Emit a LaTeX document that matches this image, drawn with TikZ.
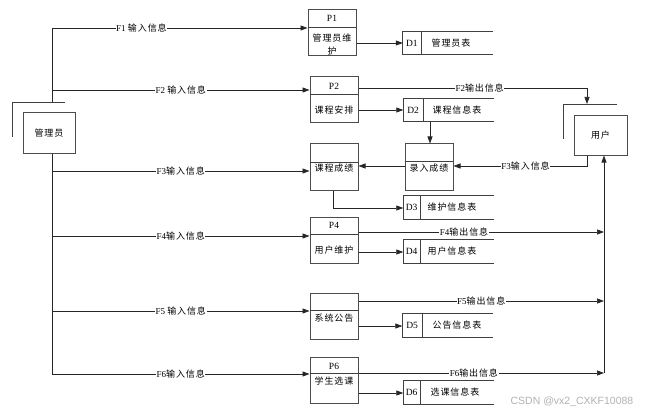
\documentclass[tikz,border=0pt]{standalone}
\usepackage{fontspec}
\setmainfont{Liberation Serif}
\newfontfamily\cjk[LetterSpace=10]{Noto Sans CJK SC}
\newfontfamily\wmfont{Liberation Sans}
\usetikzlibrary{arrows.meta,calc}
\newcommand\zh[1]{{\cjk #1}}
\begin{document}
\begin{tikzpicture}[x=1pt,y=-1pt,
  font=\fontsize{9}{12}\selectfont,
  ln/.style={draw=black!85, line width=0.7pt},
  flow/.style={ln, -{Triangle[length=7pt,width=5pt]}},
  proc/.style={draw=black!70, line width=1pt, rectangle, inner sep=0pt,
    minimum width=48pt, minimum height=46pt},
  ent/.style={draw=black!70, line width=1pt, rectangle, inner sep=0pt,
    minimum width=52pt, minimum height=40pt},
  store/.style={rectangle, inner sep=0pt, minimum width=90pt, minimum height=23pt},
  sline/.style={draw=black!75, line width=0.9pt},
  lab/.style={fill=white, inner sep=0.6pt},
  txt/.style={inner sep=0pt, align=center}]
\useasboundingbox[fill=white] (0,0) rectangle (653,417);

% external entities
\node[ent] (adm) at (49,133) {\zh{管理员}};
\draw[sline] (12,137) -- (12,102) -- (65,102);
\node[ent, minimum width=53pt, minimum height=39pt] (usr) at (600.5,135.5) {\zh{用户}};
\draw[sline] (563,139) -- (563,104) -- (617,104);
\coordinate (uo) at (563,104);

% processes
\node[proc] (p1) at (332,33) {};
\draw[sline] (308,27) -- (356,27);
\node[txt] (p1t) at (332,18) {\fontsize{9.5}{12}\selectfont P1};
\node[txt] (p1n) at (332,45) {\zh{管理员维}\\[1pt]\zh{护}};

\node[proc] (p2) at (334,100) {};
\draw[sline] (310,94) -- (358,94);
\node[txt] (p2t) at (334,86) {\fontsize{9.5}{12}\selectfont P2};
\node[txt] (p2n) at (334,110) {\zh{课程安排}};

\node[proc] (kc) at (334,167) {};
\draw[sline] (310,162) -- (358,162);
\node[txt] (kcn) at (334,168) {\zh{课程成绩}};

\node[proc] (lr) at (429,167) {};
\draw[sline] (405,161) -- (453,161);
\node[txt] (lrn) at (429,168) {\zh{录入成绩}};

\node[proc] (p4) at (334,240) {};
\draw[sline] (310,234) -- (358,234);
\node[txt] (p4t) at (334,225) {\fontsize{9.5}{12}\selectfont P4};
\node[txt] (p4n) at (334,250) {\zh{用户维护}};

\node[proc] (xt) at (334,316) {};
\draw[sline] (310,310) -- (358,310);
\node[txt] (xtn) at (334,318) {\zh{系统公告}};

\node[proc] (p6) at (334,380) {};
\node[txt] (p6t) at (334,366) {\fontsize{9.5}{12}\selectfont P6};
\node[txt] (p6n) at (334,381) {\zh{学生选课}};

% data stores
\foreach \n/\cx/\cy/\dv/\id/\tx/\nm in {
  d1/448/43/421/D1/451/管理员表,
  d2/448.5/110/423/D2/457/课程信息表,
  d3/448.5/207.5/420/D3/452/维护信息表,
  d4/448.5/251.5/420/D4/452/用户信息表,
  d5/447.5/325.5/422/D5/457/公告信息表,
  d6/448.5/392.5/420/D6/455/选课信息表}{
  \node[store] (\n) at (\cx,\cy) {};
  \draw[sline] (\n.north east) -- (\n.north west) -- (\n.south west) -- (\n.south east);
  \draw[sline] (\dv,0 |- \n.north) -- (\dv,0 |- \n.south);
  \node[txt] at ($(\n.west)!0.5!(\dv,\cy)$) {\fontsize{9.5}{12}\selectfont\id};
  \node[txt] at (\tx,\cy) {\zh{\nm}};
}

% trunk from administrator
\coordinate (i1) at (52,28);
\coordinate (i2) at (52,90);
\coordinate (i3) at (52,171);
\coordinate (i4) at (52,236);
\coordinate (i5) at (52,311);
\coordinate (i6) at (52,374);
\coordinate (tj) at (52,102);
\draw[ln] (i1) -- (tj);
\draw[ln] (adm.south -| i1) -- (i6);

\draw[flow] (i1) -- node[lab,pos=0.35]{F1 \zh{输入信息}} (i1 -| p1.west);
\draw[flow] (i2) -- node[lab,pos=0.5]{F2 \zh{输入信息}} (i2 -| p2.west);
\draw[flow] (i3) -- node[lab,pos=0.5]{F3\zh{输入信息}} (i3 -| kc.west);
\draw[flow] (i4) -- node[lab,pos=0.5]{F4\zh{输入信息}} (i4 -| p4.west);
\draw[flow] (i5) -- node[lab,pos=0.5]{F5 \zh{输入信息}} (i5 -| xt.west);
\draw[flow] (i6) -- node[lab,pos=0.5]{F6\zh{输入信息}} (i6 -| p6.west);

% process to store
\draw[flow] (p1.east |- 0,43) -- (d1.west |- 0,43);
\draw[flow] (p2.east |- 0,110) -- (d2.west |- 0,110);
\draw[flow] (d2.south -| 430,0) -- (lr.north -| 430,0);
\draw[flow] (lr.west |- 0,166) -- (kc.east |- 0,166);
\draw[flow] (kc.south -| 333,0) -- (333,208) -- (d3.west |- 0,208);
\draw[flow] (p4.east |- 0,252) -- (d4.west |- 0,252);
\draw[flow] (xt.east |- 0,326) -- (d5.west |- 0,326);
\draw[flow] (p6.east |- 0,393) -- (d6.west |- 0,393);
\draw[sline] (310,373) -- (358,373);

% outputs to user
\coordinate (o2) at (587,88);
\draw[flow] (p2.east |- o2) -- node[lab,pos=0.53]{F2\zh{输出信息}} (o2) -- (o2 |- uo);
\coordinate (f3a) at (587,166);
\draw[flow] (f3a |- usr.south) -- (f3a) -- node[lab,pos=0.46]{F3\zh{输入信息}} (lr.east |- f3a);

\coordinate (cb) at (604,373);
\draw[flow] (cb) -- (cb |- usr.south);
\draw[flow] (p4.east |- 0,232) -- node[lab,pos=0.43]{F4\zh{输出信息}} (cb |- 0,232);
\draw[flow] (xt.east |- 0,301) -- node[lab,pos=0.5]{F5\zh{输出信息}} (cb |- 0,301);
\draw[flow] (p6.east |- cb) -- node[lab,pos=0.47]{F6\zh{输出信息}} (cb);

% watermark
\node[txt, text=black!30, font=\wmfont\fontsize{10.5}{12}\selectfont] (wm) at (572,402) {CSDN @vx2\_CXKF10088};
\end{tikzpicture}
\end{document}
